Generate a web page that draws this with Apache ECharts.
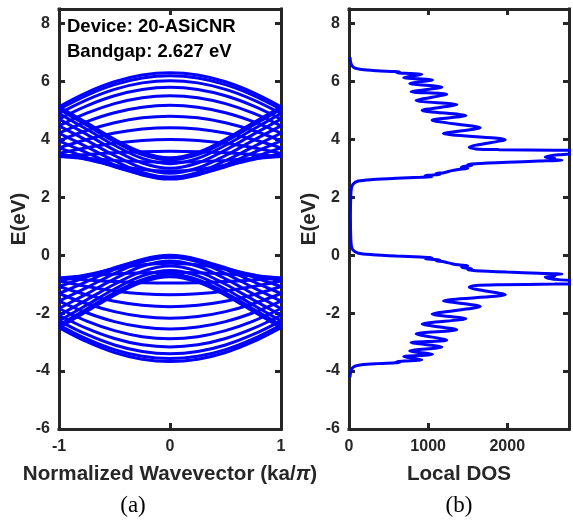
<!DOCTYPE html>
<html><head><meta charset="utf-8">
<script src="https://cdn.jsdelivr.net/npm/echarts@6/dist/echarts.min.js"></script>
<style>html,body{margin:0;padding:0;background:#fff}#c{width:573px;height:524px}</style>
</head><body><div id="c"></div>
<script>
// Normalized wavevector samples (ka/pi)
const kPoints = [-1,-0.75,-0.5,-0.25,0,0.25,0.5,0.75,1];

// Conduction sub-bands E(k) in eV
const conductionBands = [
 [5.127,5.614,5.987,6.221,6.300,6.221,5.987,5.614,5.127],
 [5.038,5.519,5.888,6.118,6.197,6.118,5.888,5.519,5.038],
 [4.893,5.364,5.725,5.950,6.027,5.950,5.725,5.364,4.893],
 [4.699,5.156,5.504,5.722,5.795,5.722,5.504,5.156,4.699],
 [4.467,4.902,5.232,5.439,5.509,5.439,5.232,4.902,4.467],
 [4.211,4.613,4.919,5.109,5.174,5.109,4.919,4.613,4.211],
 [3.949,4.304,4.575,4.744,4.801,4.744,4.575,4.304,3.949],
 [3.707,3.995,4.216,4.355,4.403,4.355,4.216,3.995,3.707],
 [3.516,3.710,3.862,3.959,3.992,3.959,3.862,3.710,3.516],
 [3.410,3.480,3.537,3.575,3.588,3.575,3.537,3.480,3.410],
 [3.410,3.337,3.274,3.230,3.214,3.230,3.274,3.337,3.410],
 [3.516,3.304,3.105,2.958,2.904,2.958,3.105,3.304,3.516],
 [3.707,3.380,3.055,2.798,2.697,2.798,3.055,3.380,3.707],
 [3.949,3.538,3.117,2.770,2.627,2.770,3.117,3.538,3.949],
 [4.211,3.743,3.261,2.856,2.686,2.856,3.261,3.743,4.211],
 [4.467,3.962,3.443,3.009,2.828,3.009,3.443,3.962,4.467],
 [4.699,4.170,3.629,3.183,2.998,3.183,3.629,4.170,4.699],
 [4.893,4.348,3.795,3.343,3.158,3.343,3.795,4.348,4.893],
 [5.038,4.484,3.924,3.470,3.286,3.470,3.924,4.484,5.038],
 [5.127,4.568,4.005,3.551,3.368,3.551,4.005,4.568,5.127]
];

// Valence sub-bands E(k) in eV
const valenceBands = [
 [-2.500,-2.987,-3.360,-3.594,-3.673,-3.594,-3.360,-2.987,-2.500],
 [-2.411,-2.892,-3.261,-3.491,-3.570,-3.491,-3.261,-2.892,-2.411],
 [-2.266,-2.737,-3.098,-3.323,-3.400,-3.323,-3.098,-2.737,-2.266],
 [-2.072,-2.529,-2.877,-3.095,-3.168,-3.095,-2.877,-2.529,-2.072],
 [-1.840,-2.275,-2.605,-2.812,-2.882,-2.812,-2.605,-2.275,-1.840],
 [-1.584,-1.986,-2.292,-2.482,-2.547,-2.482,-2.292,-1.986,-1.584],
 [-1.322,-1.677,-1.948,-2.117,-2.174,-2.117,-1.948,-1.677,-1.322],
 [-1.080,-1.368,-1.589,-1.728,-1.776,-1.728,-1.589,-1.368,-1.080],
 [-0.889,-1.083,-1.235,-1.332,-1.365,-1.332,-1.235,-1.083,-0.889],
 [-0.783,-0.853,-0.910,-0.948,-0.961,-0.948,-0.910,-0.853,-0.783],
 [-0.783,-0.710,-0.647,-0.603,-0.587,-0.603,-0.647,-0.710,-0.783],
 [-0.889,-0.677,-0.478,-0.331,-0.277,-0.331,-0.478,-0.677,-0.889],
 [-1.080,-0.753,-0.428,-0.171,-0.070,-0.171,-0.428,-0.753,-1.080],
 [-1.322,-0.911,-0.490,-0.143,0.000,-0.143,-0.490,-0.911,-1.322],
 [-1.584,-1.116,-0.634,-0.229,-0.059,-0.229,-0.634,-1.116,-1.584],
 [-1.840,-1.335,-0.816,-0.382,-0.201,-0.382,-0.816,-1.335,-1.840],
 [-2.072,-1.543,-1.002,-0.556,-0.371,-0.556,-1.002,-1.543,-2.072],
 [-2.266,-1.721,-1.168,-0.716,-0.531,-0.716,-1.168,-1.721,-2.266],
 [-2.411,-1.857,-1.297,-0.843,-0.659,-0.843,-1.297,-1.857,-2.411],
 [-2.500,-1.941,-1.378,-0.924,-0.741,-0.924,-1.378,-1.941,-2.500]
];

// Local DOS: [DOS, E(eV)], from low to high energy
const dosValence = [
 [12,-4.213],[25,-3.993],[60,-3.853],[160,-3.783],[350,-3.743],[560,-3.718],[640,-3.703],[600,-3.673],
 [700,-3.653],[920,-3.613],[692,-3.503],[1055,-3.423],[768,-3.303],[1173,-3.173],[785,-3.013],[1236,-2.933],
 [848,-2.713],[1363,-2.573],[924,-2.373],[1477,-2.193],[1050,-2.033],[1658,-1.773],[1194,-1.573],[1975,-1.363],
 [1520,-1.103],[1600,-1.043],[1900,-1.018],[2600,-0.998],[3300,-0.963],[3000,-0.903],[2650,-0.843],[2520,-0.793],
 [2480,-0.753],[2600,-0.723],[2550,-0.683],[2690,-0.653],[2400,-0.623],[2000,-0.583],[1600,-0.533],[1500,-0.503],
 [1550,-0.473],[1450,-0.433],[1420,-0.393],[1500,-0.363],[1380,-0.333],[1300,-0.293],[1200,-0.223],[1100,-0.193],
 [1150,-0.163],[1000,-0.133],[960,-0.103],[1050,-0.083],[900,-0.063],[600,-0.028],[300,0.017],[118,0.067],
 [50,0.177],[30,0.327],[22,0.627],[18,1.277]
];
const dosConduction = [
 [18,1.35],[22,2.00],[30,2.30],[50,2.45],[118,2.56],[300,2.61],[600,2.655],[900,2.69],
 [1050,2.71],[960,2.73],[1000,2.76],[1150,2.79],[1100,2.82],[1200,2.85],[1300,2.92],[1380,2.96],
 [1500,2.99],[1420,3.02],[1450,3.06],[1550,3.10],[1500,3.13],[1600,3.16],[2000,3.21],[2400,3.25],
 [2690,3.28],[2550,3.31],[2600,3.35],[2480,3.38],[2520,3.42],[2650,3.47],[3000,3.53],[3300,3.59],
 [2600,3.625],[1900,3.645],[1600,3.67],[1520,3.73],[1975,3.99],[1194,4.20],[1658,4.40],[1050,4.66],
 [1477,4.82],[924,5.00],[1363,5.20],[848,5.34],[1236,5.56],[785,5.64],[1173,5.80],[768,5.93],
 [1055,6.05],[692,6.13],[920,6.24],[700,6.28],[600,6.30],[640,6.33],[560,6.345],[350,6.37],
 [160,6.41],[60,6.48],[25,6.62],[12,6.84]
];

const annotations = ['Device: 20-ASiCNR', 'Bandgap: 2.627 eV'];
const panelLabels = ['(a)', '(b)'];

const AX = '#262626', BLUE = '#0000ff';
const FONT = '"Liberation Sans", Arial, sans-serif';
const lineStyleAx = {color: AX, width: 3, cap: 'square'};
const tickStyle = {show: true, inside: true, length: 6, lineStyle: {color: AX, width: 3}};
const labelStyle = {color: AX, fontSize: 16, fontWeight: 'bold', fontFamily: FONT};
const nameStyle = {color: AX, fontSize: 20.6, fontWeight: 'bold', fontFamily: FONT,
  rich: {i: {color: AX, fontSize: 20.6, fontWeight: 'bold', fontStyle: 'italic', fontFamily: FONT}}};

function xAx(grid, min, max, interval, name, pos) {
  const main = pos === 'bottom';
  return {
    gridIndex: grid, type: 'value', min, max, interval, position: pos,
    axisLine: {show: true, onZero: false, lineStyle: lineStyleAx},
    axisTick: tickStyle,
    axisLabel: Object.assign({show: main, margin: 10, showMaxLabel: grid === 0, showMinLabel: true,
      formatter: v => String(v)}, labelStyle),
    splitLine: {show: false},
    name: main ? name : '', nameLocation: 'middle', nameGap: 35, nameTextStyle: nameStyle
  };
}
function yAx(grid, pos) {
  const main = pos === 'left';
  return {
    gridIndex: grid, type: 'value', min: -6, max: 8.5, interval: 2, position: pos,
    axisLine: {show: true, onZero: false, lineStyle: lineStyleAx},
    axisTick: tickStyle,
    axisLabel: Object.assign({show: main, margin: 9, showMaxLabel: false,
      formatter: v => (v % 2 === 0 ? String(v) : '')}, labelStyle),
    splitLine: {show: false},
    name: main ? 'E(eV)' : '', nameLocation: 'middle', nameGap: 29, nameRotate: 90, nameTextStyle: nameStyle
  };
}

const series = [];
conductionBands.concat(valenceBands).forEach(b => {
  series.push({type: 'line', xAxisIndex: 0, yAxisIndex: 0, showSymbol: false, smooth: 0.35,
    data: kPoints.map((k, i) => [k, b[i]]), lineStyle: {color: BLUE, width: 3}, silent: true, animation: false});
});
series.push({type: 'line', xAxisIndex: 2, yAxisIndex: 2, showSymbol: false, smooth: 0.25, clip: true,
  data: dosValence.concat(dosConduction), lineStyle: {color: BLUE, width: 3}, silent: true, animation: false});

const chart = echarts.init(document.getElementById('c'), null, {renderer: 'canvas'});
chart.setOption({
  animation: false,
  backgroundColor: '#fff',
  grid: [
    {left: 59, top: 9, width: 222, height: 420},
    {left: 349, top: 9, width: 220, height: 420}
  ],
  xAxis: [
    xAx(0, -1, 1, 1, 'Normalized Wavevector (ka/{i|π})', 'bottom'),
    xAx(0, -1, 1, 1, '', 'top'),
    xAx(1, 0, 2780, 1000, 'Local DOS', 'bottom'),
    xAx(1, 0, 2780, 1000, '', 'top')
  ],
  yAxis: [yAx(0, 'left'), yAx(0, 'right'), yAx(1, 'left'), yAx(1, 'right')],
  series,
  graphic: [
    {type: 'text', x: 67, y: 27, style: {text: annotations[0], font: 'bold 18.5px ' + FONT, fill: '#000', align: 'left', verticalAlign: 'middle'}},
    {type: 'text', x: 67, y: 52, style: {text: annotations[1], font: 'bold 18.5px ' + FONT, fill: '#000', align: 'left', verticalAlign: 'middle'}},
    {type: 'text', x: 133, y: 506, style: {text: panelLabels[0], font: '23px "Liberation Serif", "Times New Roman", serif', fill: '#000', align: 'center', verticalAlign: 'middle'}},
    {type: 'text', x: 459, y: 506, style: {text: panelLabels[1], font: '23px "Liberation Serif", "Times New Roman", serif', fill: '#000', align: 'center', verticalAlign: 'middle'}}
  ]
});
</script></body></html>
